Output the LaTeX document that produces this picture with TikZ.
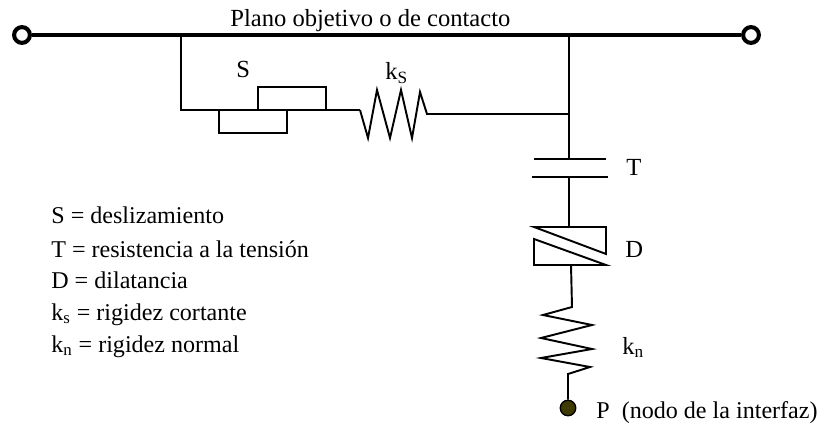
\documentclass[tikz,border=0pt]{standalone}
\usepackage{fontspec}
\setmainfont{Liberation Serif}
\definecolor{dotolive}{HTML}{3F3A00}
\tikzset{
  wire/.style={line width=1.1pt, line join=miter},
  plane/.style={line width=2.3pt},
  endring/.style={circle, draw, line width=2.3pt, fill=white, minimum size=9pt, inner sep=0pt},
  nodedot/.style={circle, draw, line width=0.8pt, fill=dotolive, minimum size=8.8pt, inner sep=0pt},
  lbl/.style={anchor=base west, inner sep=0pt, font=\fontsize{14}{16}\selectfont},
  legendlbl/.style={lbl, font=\fontsize{13.7}{16}\selectfont}
}
\begin{document}
\begin{tikzpicture}[x=0.02cm,y=-0.02cm]
\useasboundingbox (0,0) rectangle (820,425);

% plano superior
\node [endring] (left) at (22,35) {};
\node [endring] (right) at (751,35) {};
\draw [plane] (left) -- (right);
\node [lbl] (plano) at (230,27) {Plano objetivo o de contacto};

% rama S
\coordinate (a) at (181,35);
\coordinate (b) at (181,110);
\coordinate (c) at (360,110);
\draw [wire] (a) -- (b) -- (c);
\draw [wire] (258,110) rectangle (326,87);
\draw [wire] (219,110) rectangle (287,133);
\node [lbl] (S) at (236,78) {S};
\draw [wire] (c) -- (368,138) -- (377,90) -- (390,138) -- (401,90) -- (412,138) -- (420,92) -- (427,114) -- (569,114);
\node [lbl] (kS) at (385,80) {k\textsubscript{S}};

% rama vertical
\coordinate (d) at (569,35);
\coordinate (e) at (569,159);
\draw [wire] (d) -- (e);
\draw [wire] (534,159) -- (606,159);
\draw [wire] (532,177) -- (608,177);
\node [lbl] (T) at (626,176) {T};
\coordinate (f) at (569,177);
\coordinate (g) at (569,227);
\draw [wire] (f) -- (g);

% dilatancia
\draw [wire] (534,227) -- (606,227) -- (606,254) -- cycle;
\draw [wire] (534,239) -- (606,265) -- (534,265) -- cycle;
\node [lbl] (D) at (625,257) {D};

% resorte y nodo
\node [nodedot] (P) at (568,408) {};
\coordinate (h) at (571,265);
\draw [wire] (h) -- (572,307) -- (543,315) -- (592,325) -- (541,338) -- (592,349) -- (541,358) -- (590,367) -- (568,374) -- (P);
\node [lbl] (kn) at (622,354) {k\textsubscript{n}};
\node [legendlbl] (Pl) at (596,418) {P\ \ (nodo de la interfaz)};

% leyenda
\node [legendlbl] (l1) at (51,224) {S = deslizamiento};
\node [legendlbl] (l2) at (51,257) {T = resistencia a la tensión};
\node [legendlbl] (l3) at (51,288) {D = dilatancia};
\node [legendlbl] (l4) at (51,320) {k\textsubscript{s} = rigidez cortante};
\node [legendlbl] (l5) at (51,352) {k\textsubscript{n} = rigidez normal};
\end{tikzpicture}
\end{document}
